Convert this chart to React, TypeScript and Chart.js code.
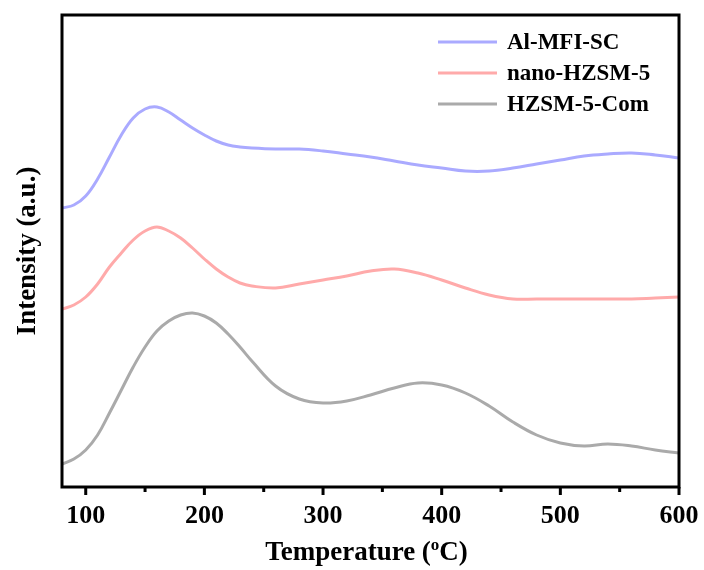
import React, { useEffect, useRef } from "react";
import { Chart, registerables } from "chart.js";

Chart.register(...registerables);

// Temperatures (°C) at which the curves were read
const temps = [80, 90, 100, 110, 120, 130, 140, 150, 160, 170, 180, 190, 200, 210, 220, 230, 240, 260, 280, 300, 320, 340, 360, 380, 400, 420, 440, 460, 480, 500, 520, 540, 560, 580, 600];

const alMfiSc = [279, 282, 291, 308, 330, 352, 369, 378, 380, 375, 367, 359, 352, 346, 342, 340, 339, 338, 338, 336, 333, 330, 326, 322, 319, 316, 316, 319, 323, 327, 331, 333, 334, 332, 329];
const nanoHzsm5 = [178, 182, 190, 203, 220, 234, 247, 256, 260, 256, 249, 239, 228, 218, 210, 204, 201, 199, 203, 207, 211, 216, 218, 214, 207, 199, 192, 188, 188, 188, 188, 188, 188, 189, 190];
const hzsm5Com = [23, 28, 37, 52, 74, 97, 120, 140, 156, 166, 172, 174, 171, 164, 153, 140, 126, 101, 88, 84, 86, 92, 99, 104, 102, 94, 81, 65, 52, 44, 41, 43, 41, 37, 34];

const seriesLabels = ["Al-MFI-SC", "nano-HZSM-5", "HZSM-5-Com"];
const seriesColors = ["#aaaaff", "#ffaaaa", "#aaaaaa"];
const xTickValues = [100, 200, 300, 400, 500, 600];
const xMinorValues = [150, 250, 350, 450, 550];

const FONT = "'Liberation Serif', 'Times New Roman', serif";

function pts(xs: number[], ys: number[]) {
  return xs.map((x, i) => ({ x, y: ys[i] }));
}

const framePlugin = {
  id: "frameAndExtras",
  afterDraw(chart: any) {
    const { ctx, chartArea } = chart;
    const xs = chart.scales.x;
    ctx.save();
    ctx.strokeStyle = "#000";
    ctx.lineWidth = 3;
    ctx.strokeRect(chartArea.left, chartArea.top, chartArea.right - chartArea.left, chartArea.bottom - chartArea.top);
    ctx.lineCap = "butt";
    xTickValues.forEach((v) => {
      const px = xs.getPixelForValue(v);
      ctx.beginPath();
      ctx.moveTo(px, chartArea.bottom);
      ctx.lineTo(px, chartArea.bottom + 8);
      ctx.stroke();
    });
    xMinorValues.forEach((v) => {
      const px = xs.getPixelForValue(v);
      ctx.beginPath();
      ctx.moveTo(px, chartArea.bottom);
      ctx.lineTo(px, chartArea.bottom + 5);
      ctx.stroke();
    });
    // x title with superscript o
    const cx = (chartArea.left + chartArea.right) / 2 - 4;
    const base = 560;
    const mainFont = `bold 27px ${FONT}`;
    const supFont = `bold 17px ${FONT}`;
    const p1 = "Temperature (";
    const p2 = "o";
    const p3 = "C)";
    ctx.font = mainFont;
    const w1 = ctx.measureText(p1).width;
    const w3 = ctx.measureText(p3).width;
    ctx.font = supFont;
    const w2 = ctx.measureText(p2).width;
    const total = w1 + w2 + w3;
    const x0 = cx - total / 2;
    ctx.fillStyle = "#000";
    ctx.textBaseline = "alphabetic";
    ctx.textAlign = "left";
    ctx.font = mainFont;
    ctx.fillText(p1, x0, base);
    ctx.font = supFont;
    ctx.fillText(p2, x0 + w1, base - 10);
    ctx.font = mainFont;
    ctx.fillText(p3, x0 + w1 + w2, base);
    // legend
    const lx1 = 438;
    const lx2 = 497;
    const tx = 507;
    const rows = [42, 73, 104];
    chart.data.datasets.forEach((ds: any, i: number) => {
      const y = rows[i];
      ctx.strokeStyle = ds.borderColor;
      ctx.lineWidth = 3;
      ctx.beginPath();
      ctx.moveTo(lx1, y);
      ctx.lineTo(lx2, y);
      ctx.stroke();
      ctx.fillStyle = "#000";
      ctx.font = `bold 23px ${FONT}`;
      ctx.textBaseline = "middle";
      ctx.fillText(ds.label, tx, y + 1);
    });
    ctx.restore();
  },
};

export default function App() {
  const ref = useRef<HTMLCanvasElement | null>(null);
  useEffect(() => {
    document.body.style.margin = "0";
    if (!ref.current) return;
    const chart = new Chart(ref.current, {
      type: "line",
      data: {
        datasets: [
          { label: seriesLabels[0], data: pts(temps, alMfiSc), borderColor: seriesColors[0] },
          { label: seriesLabels[1], data: pts(temps, nanoHzsm5), borderColor: seriesColors[1] },
          { label: seriesLabels[2], data: pts(temps, hzsm5Com), borderColor: seriesColors[2] },
        ].map((d) => ({ ...d, borderWidth: 3, pointRadius: 0, fill: false, tension: 0.4 })),
      },
      options: {
        responsive: false,
        animation: false,
        layout: { padding: { top: 15, right: 25, left: 0, bottom: 0 } },
        plugins: { legend: { display: false }, tooltip: { enabled: false } },
        scales: {
          x: {
            type: "linear",
            min: 80,
            max: 600,
            grid: { display: false, drawTicks: false },
            border: { display: false },
            afterBuildTicks: (s: any) => {
              s.ticks = xTickValues.map((v) => ({ value: v }));
            },
            afterFit: (s: any) => {
              s.height = 83;
              s.paddingRight = 0;
              s.paddingLeft = 0;
            },
            ticks: {
              color: "#000",
              padding: 14,
              maxRotation: 0,
              autoSkip: false,
              font: { family: FONT, size: 26, weight: "bold" },
            },
          },
          y: {
            min: 0,
            max: 472,
            grid: { display: false, drawTicks: false },
            border: { display: false },
            ticks: { display: false },
            afterFit: (s: any) => {
              s.width = 62;
            },
            title: {
              display: true,
              text: "Intensity (a.u.)",
              color: "#000",
              padding: { top: 12, bottom: 0 },
              font: { family: FONT, size: 27, weight: "bold" },
            },
          },
        },
      },
      plugins: [framePlugin],
    });
    return () => chart.destroy();
  }, []);
  return <canvas ref={ref} width={704} height={570} style={{ display: "block" }} />;
}
